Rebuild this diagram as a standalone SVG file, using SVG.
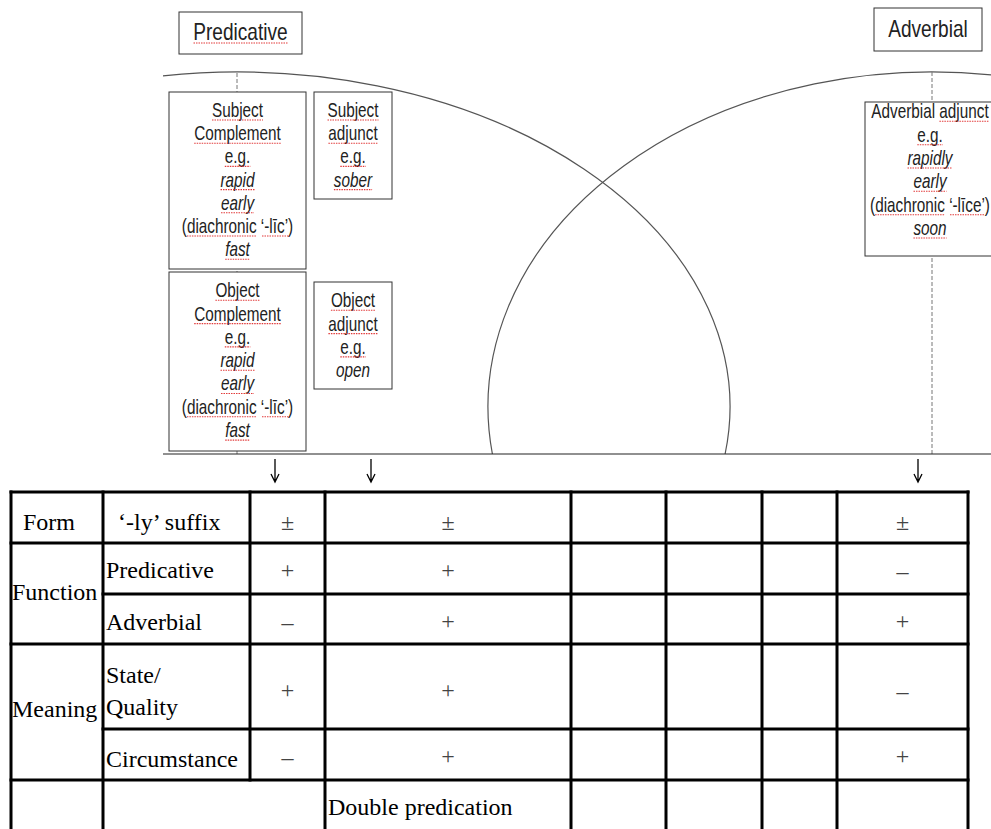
<svg xmlns="http://www.w3.org/2000/svg" width="991" height="829" viewBox="0 0 991 829">
<style>
.bx{fill:#fff;stroke:#333;stroke-width:1}
.t{font-family:"Liberation Sans",Arial,sans-serif;font-size:20px;fill:#222;text-anchor:middle}
.tt{font-size:23px}
.i{font-style:italic}
.sq{fill:none;stroke:#e23b3b;stroke-width:1.1;stroke-dasharray:1.5 1}
.arc{fill:none;stroke:#555;stroke-width:1.2}
.dash{fill:none;stroke:#777;stroke-width:1;stroke-dasharray:4 2}
.base{fill:none;stroke:#222;stroke-width:1.2}
.arw{fill:none;stroke:#000;stroke-width:1.3}
.tl{stroke:#000;stroke-width:3;fill:none;stroke-linecap:square}
.tx{font-family:"Liberation Serif","Times New Roman",serif;font-size:24px;fill:#000}
.sg{font-family:"Liberation Serif","Times New Roman",serif;font-size:24px;fill:#444;text-anchor:middle}
</style>
<rect width="991" height="829" fill="#fff"/>

<g id="connectors">
  <path class="arc" d="M163,75.8 A493,335 0 0 1 725.1,454"/>
  <path class="arc" d="M492.4,454 A444,335 0 0 1 1010,77.2"/>
  <path class="dash" d="M237,73 V454"/>
  <path class="dash" d="M932,72 V454"/>
  <path class="base" d="M163,454 H991"/>
  <path class="arw" d="M275,459 V481 M271,474 L275,482 L279,474"/>
  <path class="arw" d="M371,459 V481 M367,474 L371,482 L375,474"/>
  <path class="arw" d="M918,459 V481 M914,474 L918,482 L922,474"/>
</g>

<g id="title-predicative">
  <rect class="bx" x="179" y="12" width="123" height="42"/>
  <g transform="matrix(0.83 0 0 1 40.885 0)"><text class="t tt" x="240.5" y="40">Predicative</text></g>
  <path class="sq" d="M193.5,43 H287.5"/>
</g>

<g id="title-adverbial">
  <rect class="bx" x="874" y="8" width="108" height="43"/>
  <g transform="matrix(0.83 0 0 1 157.76 0)"><text class="t tt" x="928" y="37">Adverbial</text></g>
</g>

<g id="subject-complement">
  <rect class="bx" x="169" y="92" width="137" height="177"/>
  <g transform="matrix(0.765 0 0 1 55.81 0)">
    <text class="t" x="237.5" y="117">Subject</text>
    <text class="t" x="237.5" y="140.2">Complement</text>
    <text class="t" x="237.5" y="163.4">e.g.</text>
    <text class="t i" x="237.5" y="186.6">rapid</text>
    <text class="t i" x="237.5" y="209.8">early</text>
    <text class="t" x="237.5" y="233">(diachronic ‘-līc’)</text>
    <text class="t i" x="237.5" y="256.2">fast</text>
  </g>
  <path class="sq" d="M212,120 H263 M194.2,143.2 H280.9 M224.8,166.4 H250.3 M220.5,189.6 H254.5 M221,212.8 H254 M186.9,236 H256.6 M262,236 H289 M225.2,259.2 H249.8"/>
</g>

<g id="subject-adjunct">
  <rect class="bx" x="314" y="92" width="78" height="107"/>
  <g transform="matrix(0.765 0 0 1 82.955 0)">
    <text class="t" x="353" y="117">Subject</text>
    <text class="t" x="353" y="140.2">adjunct</text>
    <text class="t" x="353" y="163.4">e.g.</text>
    <text class="t i" x="353" y="186.6">sober</text>
  </g>
  <path class="sq" d="M327.5,120 H378.5 M328.4,143.2 H377.7 M340.3,166.4 H365.8 M333.9,189.6 H372.1"/>
</g>

<g id="object-complement">
  <rect class="bx" x="169" y="272" width="137" height="179"/>
  <g transform="matrix(0.765 0 0 1 55.81 0)">
    <text class="t" x="237.5" y="297.3">Object</text>
    <text class="t" x="237.5" y="320.6">Complement</text>
    <text class="t" x="237.5" y="343.9">e.g.</text>
    <text class="t i" x="237.5" y="367.2">rapid</text>
    <text class="t i" x="237.5" y="390.5">early</text>
    <text class="t" x="237.5" y="413.8">(diachronic ‘-līc’)</text>
    <text class="t i" x="237.5" y="437.1">fast</text>
  </g>
  <path class="sq" d="M215.4,300.3 H259.6 M194.2,323.6 H280.9 M224.8,346.9 H250.3 M220.5,370.2 H254.5 M221,393.5 H254 M186.9,416.8 H256.6 M262,416.8 H289 M225.2,440.1 H249.8"/>
</g>

<g id="object-adjunct">
  <rect class="bx" x="314" y="282" width="78" height="107"/>
  <g transform="matrix(0.765 0 0 1 82.955 0)">
    <text class="t" x="353" y="307.3">Object</text>
    <text class="t" x="353" y="330.6">adjunct</text>
    <text class="t" x="353" y="353.9">e.g.</text>
    <text class="t i" x="353" y="377.2">open</text>
  </g>
  <path class="sq" d="M330.9,310.3 H375.1 M328.4,333.6 H377.7 M340.3,356.9 H365.8"/>
</g>

<g id="adverbial-adjunct">
  <rect class="bx" x="865" y="102" width="140" height="154"/>
  <g transform="matrix(0.765 0 0 1 218.55 0)">
    <text class="t" x="930" y="118.3">Adverbial adjunct</text>
    <text class="t" x="930" y="141.7">e.g.</text>
    <text class="t i" x="930" y="165">rapidly</text>
    <text class="t i" x="930" y="188.3">early</text>
    <text class="t" x="930" y="211.7">(diachronic ‘-līce’)</text>
    <text class="t i" x="930" y="235">soon</text>
  </g>
  <path class="sq" d="M939.4,121.3 H988.7 M917.3,144.7 H942.8 M907.5,168 H952.5 M913.5,191.3 H946.5 M875.1,214.7 H944.9 M950,214.7 H985 M913.4,238 H946.6"/>
</g>

<g id="table">
  <path class="tl" d="M11,492 V829 M103,492 V829 M250,492 V780 M325,492 V829 M571,492 V829 M666,492 V829 M762,492 V829 M837,492 V829 M968,492 V829"/>
  <path class="tl" d="M11,492 H968 M11,543 H968 M103,594 H968 M11,644 H968 M103,729 H968 M11,780 H968"/>
  <text class="tx" x="23" y="530">Form</text>
  <text class="tx" x="118" y="530">‘-ly’ suffix</text>
  <text class="tx" x="12" y="600">Function</text>
  <text class="tx" x="106" y="578">Predicative</text>
  <text class="tx" x="106" y="630">Adverbial</text>
  <text class="tx" x="12" y="717">Meaning</text>
  <text class="tx" x="106" y="683">State/</text>
  <text class="tx" x="106" y="715">Quality</text>
  <text class="tx" x="106" y="767">Circumstance</text>
  <text class="tx" x="328" y="815">Double predication</text>
  <text class="sg" x="287.5" y="530">±</text>
  <text class="sg" x="448" y="530">±</text>
  <text class="sg" x="902.5" y="530">±</text>
  <text class="sg" x="287.5" y="578">+</text>
  <text class="sg" x="448" y="578">+</text>
  <text class="sg" x="902.5" y="579">–</text>
  <text class="sg" x="287.5" y="630">–</text>
  <text class="sg" x="448" y="629">+</text>
  <text class="sg" x="902.5" y="629">+</text>
  <text class="sg" x="287.5" y="698">+</text>
  <text class="sg" x="448" y="698">+</text>
  <text class="sg" x="902.5" y="699">–</text>
  <text class="sg" x="287.5" y="765">–</text>
  <text class="sg" x="448" y="764">+</text>
  <text class="sg" x="902.5" y="764">+</text>
</g>
</svg>
